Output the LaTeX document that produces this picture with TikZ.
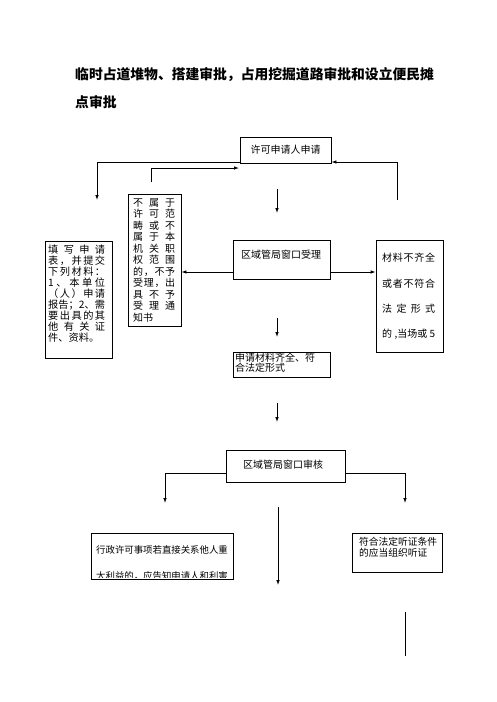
\documentclass[tikz,border=0pt]{standalone}
\usepackage{fontspec}
\setmainfont{Noto Sans CJK SC}
\usetikzlibrary{arrows.meta}
\newcommand\jl[2]{\makebox[#1][s]{#2}}
\begin{document}
\begin{tikzpicture}[x=1pt,y=-1pt,
  box/.style={draw, line width=0.9pt, inner sep=0pt},
  txt/.style={inner sep=0pt, font=\fontsize{10}{12}\selectfont},
  ttl/.style={inner sep=0pt, anchor=west, font=\bfseries\fontsize{13.8}{16}\selectfont},
  arr/.style={-{Latex[length=5pt,width=3.6pt]}, line width=0.9pt},
  ln/.style={line width=0.9pt}]
\useasboundingbox (0,0) rectangle (496,702);
\fill[white] (0,0) rectangle (496,702);

% title
\node[ttl] (t1) at (75,75) {临时占道堆物、搭建审批，占用挖掘道路审批和设立便民摊};
\node[ttl] (t2) at (75,102) {点审批};

% boxes
\node[box, minimum width=91pt, minimum height=26pt, font=\fontsize{10}{12}\selectfont] (A) at (285.5,150) {许可申请人申请};
\node[box, minimum width=53pt, minimum height=132pt] (B) at (154.5,260) {};
\node[box, minimum width=67pt, minimum height=117pt] (C) at (78.5,299.5) {};
\node[box, minimum width=97pt, minimum height=39pt] (D) at (281.5,259.5) {};
\node[box, minimum width=67pt, minimum height=112pt] (E) at (409.5,296) {};
\node[box, minimum width=97pt, minimum height=25pt] (F) at (281.5,364.5) {};
\node[box, minimum width=119pt, minimum height=32pt] (G) at (285.5,466) {};
\node[box, minimum width=142pt, minimum height=46pt] (H) at (162,556) {};
\node[box, minimum width=90pt, minimum height=39pt] (I) at (397,552.5) {};

% texts
\node[txt, anchor=north west, align=left, font=\fontsize{10}{11.5}\selectfont] (Bt) at (133,198) {%
\jl{42pt}{不\hfil 属\hfil 于}\\
\jl{42pt}{许\hfil 可\hfil 范}\\
\jl{42pt}{畴\hfil 或\hfil 不}\\
\jl{42pt}{属\hfil 于\hfil 本}\\
\jl{42pt}{机\hfil 关\hfil 职}\\
\jl{42pt}{权\hfil 范\hfil 围}\\
\jl{42pt}{的\hfil ，\hfil 不\hfil 予}\\
\jl{42pt}{受\hfil 理\hfil ，\hfil 出}\\
\jl{42pt}{具\hfil 不\hfil 予}\\
\jl{42pt}{受\hfil 理\hfil 通}\\
知书};

\node[txt, anchor=north west, align=left, font=\fontsize{10.2}{11}\selectfont] (Ct) at (48,245) {%
\jl{57pt}{填\hfil 写\hfil 申\hfil 请}\\
\jl{57pt}{表\hfil ，\hfil 并\hfil 提\hfil 交}\\
\jl{57pt}{下\hfil 列\hfil 材\hfil 料\hfil ：}\\
\jl{57pt}{1\hfil 、\hfil 本\hfil 单\hfil 位}\\
\jl{57pt}{（\hfil 人\hfil ）\hfil 申\hfil 请}\\
\jl{57pt}{报\hfil 告\hfil ；\hfil 2\hfil 、\hfil 需}\\
\jl{57pt}{要\hfil 出\hfil 具\hfil 的\hfil 其}\\
\jl{57pt}{他\hfil 有\hfil 关\hfil 证}\\
件、资料。};

\node[txt] (Dt) at (281,255) {区域管局窗口受理};

\node[txt, anchor=north west, align=left, font=\fontsize{10}{25.3}\selectfont] (Et) at (382,253) {%
\jl{53pt}{材\hfil 料\hfil 不\hfil 齐\hfil 全}\\
\jl{53pt}{或\hfil 者\hfil 不\hfil 符\hfil 合}\\
\jl{53pt}{法\hfil 定\hfil 形\hfil 式}\\
\jl{53pt}{的\hfil ,当场或\hfil 5}};

\node[txt, anchor=north west, align=left, font=\fontsize{10}{9.5}\selectfont] (Ft) at (235,353) {申请材料齐全、符\\合法定形式};

\node[txt] (Gt) at (283,465) {区域管局窗口审核};

\node[txt, anchor=west, font=\fontsize{9.4}{11}\selectfont] (Ht1) at (96,550) {行政许可事项若直接关系他人重};
\begin{scope}
\clip (91,533) rectangle (233,577.8);
\node[txt, anchor=west, font=\fontsize{9.4}{11}\selectfont] (Ht2) at (96,576.5) {大利益的，应告知申请人和利害};
\end{scope}

\node[txt, anchor=north west, align=left, font=\fontsize{9.75}{11}\selectfont] (It) at (359,537) {符合法定听证条件\\的应当组织听证};

% connectors
\coordinate (yA) at (0,162);
\coordinate (lA) at (97,200);
\draw[arr] (A.west |- yA) -| (lA);
\coordinate (b1) at (151,182);
\coordinate (b2) at (239,168);
\draw[arr] (b1) |- (b2);
\coordinate (r1) at (397,200);
\draw[arr] (r1) |- (A.east |- yA);
\coordinate (m1) at (277,189);
\coordinate (m2) at (277,213);
\draw[arr] (m1) -- (m2);
\coordinate (yD) at (0,272);
\draw[arr] (D.west |- yD) -- (B.east |- yD);
\draw[arr] (D.east |- yD) -- (E.west |- yD);
\coordinate (m3) at (277,318);
\coordinate (m4) at (277,337);
\draw[arr] (m3) -- (m4);
\coordinate (m5) at (277,403);
\coordinate (m6) at (277,422);
\draw[arr] (m5) -- (m6);
\coordinate (yG) at (0,473);
\coordinate (g1) at (165,503);
\coordinate (g2) at (405,503);
\draw[arr] (G.west |- yG) -| (g1);
\draw[arr] (G.east |- yG) -| (g2);
\coordinate (m7) at (278,507);
\coordinate (m8) at (278,585);
\draw[arr] (m7) -- (m8);
\coordinate (v1) at (405,612);
\coordinate (v2) at (405,656);
\draw[ln] (v1) -- (v2);
\end{tikzpicture}
\end{document}
